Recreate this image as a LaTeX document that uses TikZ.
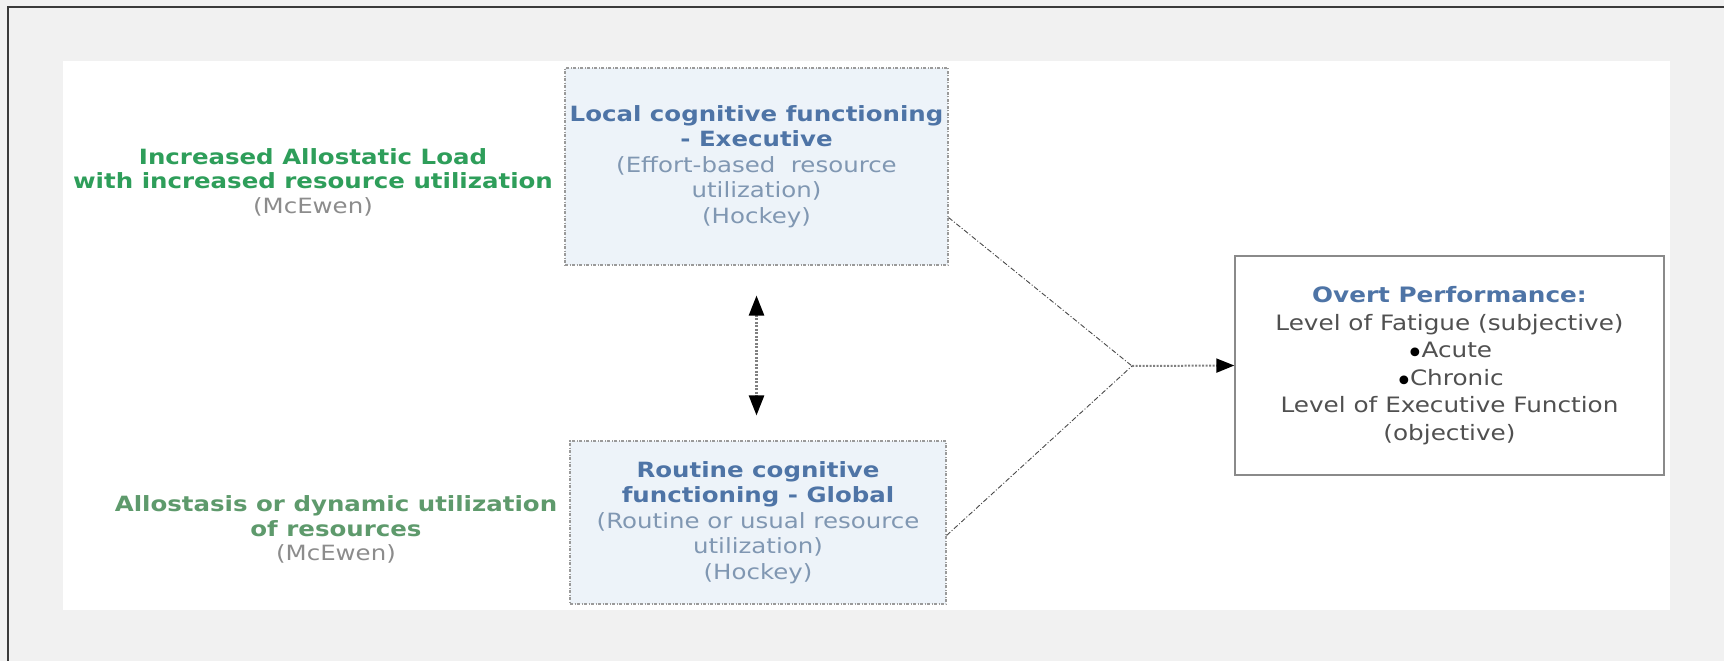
\documentclass[tikz,border=0pt]{standalone}
\usepackage{fontspec}
\setmainfont[FakeStretch=1.165]{DejaVu Sans}
\newfontfamily\plainfont{DejaVu Sans}
\usetikzlibrary{arrows.meta}

\definecolor{pagegray}{HTML}{F1F1F1}
\definecolor{framecol}{HTML}{3A3A3A}
\definecolor{greenA}{HTML}{2E9E5A}
\definecolor{greenB}{HTML}{5E9A6C}
\definecolor{refgray}{HTML}{8C8C8C}
\definecolor{titleblue}{HTML}{4E74A6}
\definecolor{subblue}{HTML}{8097B2}
\definecolor{boxfill}{HTML}{EDF3F9}
\definecolor{boxedge}{HTML}{9A9A9A}
\definecolor{overtedge}{HTML}{8A8A8A}
\definecolor{bodygray}{HTML}{505050}
\definecolor{linkcol}{HTML}{4A4A4A}

% round black list bullet
\newcommand\listdot{{\plainfont\fontsize{30}{30}\selectfont\raisebox{-6pt}{\textcolor{black}{•}}}\kern-3pt}

\tikzset{
  sidetext/.style={align=center, inner sep=0pt,
    font=\fontsize{21}{24.5}\selectfont},
  levelbox/.style={draw=boxedge, fill=boxfill, line width=1.1pt,
    dash pattern=on 3pt off 1.5pt on 1pt off 1.5pt,
    align=center, inner sep=0pt,
    font=\fontsize{21}{25.5}\selectfont},
  overtbox/.style={draw=overtedge, fill=white, line width=1.4pt,
    align=center, inner sep=0pt, minimum width=429pt, minimum height=219pt,
    font=\fontsize{21.2}{27.5}\selectfont},
  link/.style={draw=linkcol, line width=0.9pt,
    dash pattern=on 5pt off 2pt on 1pt off 2pt},
  feed/.style={draw=gray, line width=2pt, dash pattern=on 2pt off 1.5pt,
    -{Triangle[length=18pt,width=14pt,fill=black,color=black]}},
  mutual/.style={draw=gray, line width=2.5pt, dash pattern=on 2pt off 1.5pt,
    {Triangle[length=20pt,width=15pt,fill=black,color=black]}-{Triangle[length=20pt,width=15pt,fill=black,color=black]}},
}

\begin{document}
\begin{tikzpicture}[x=1pt,y=-1pt]
  \useasboundingbox (0,0) rectangle (1724,661);
  % page background, frame and white panel
  \fill[pagegray] (0,0) rectangle (1724,661);
  \draw[framecol, line width=2pt] (8,661) -- (8,7) -- (1724,7);
  \fill[white] (63,61) rectangle (1670,610);

  % left-hand labels
  \node[sidetext] (lt) at (313,182) {\textcolor{greenA}{\bfseries Increased Allostatic Load}\\
    \textcolor{greenA}{\bfseries with increased resource utilization}\\
    \textcolor{refgray}{(McEwen)}};
  \node[sidetext] (lb) at (336,529.5) {\textcolor{greenB}{\bfseries Allostasis or dynamic utilization}\\
    \textcolor{greenB}{\bfseries of resources}\\
    \textcolor{refgray}{(McEwen)}};

  % functioning levels
  \node[levelbox, minimum width=383pt, minimum height=197pt] (lcl) at (756.5,166.5)
    {\textcolor{titleblue}{\bfseries Local cognitive functioning}\\
     \textcolor{titleblue}{\bfseries - Executive}\\
     \textcolor{subblue}{(Effort-based\ \ resource}\\
     \textcolor{subblue}{utilization)}\\
     \textcolor{subblue}{(Hockey)}};
  \node[levelbox, minimum width=376pt, minimum height=163pt] (rtn) at (758,522.5)
    {\textcolor{titleblue}{\bfseries Routine cognitive}\\
     \textcolor{titleblue}{\bfseries functioning - Global}\\
     \textcolor{subblue}{(Routine or usual resource}\\
     \textcolor{subblue}{utilization)}\\
     \textcolor{subblue}{(Hockey)}};

  % outcome
  \node[overtbox] (ovt) at (1449.5,365.5)
    {\textcolor{titleblue}{\bfseries Overt Performance:}\\
     \textcolor{bodygray}{Level of Fatigue (subjective)}\\
     \listdot\textcolor{bodygray}{Acute}\\
     \listdot\textcolor{bodygray}{Chronic}\\
     \textcolor{bodygray}{Level of Executive Function}\\
     \textcolor{bodygray}{(objective)}};

  % connectors
  \coordinate (apex) at (1132,366);
  \draw[link] ([yshift=-51pt]lcl.east) -- (apex);
  \draw[link] ([yshift=-13pt]rtn.east) -- (apex);
  \draw[feed] (apex) -- (ovt.west);
  \draw[mutual] ([yshift=-30pt]lcl.south) -- ([yshift=25pt,xshift=-1.5pt]rtn.north);
\end{tikzpicture}
\end{document}
